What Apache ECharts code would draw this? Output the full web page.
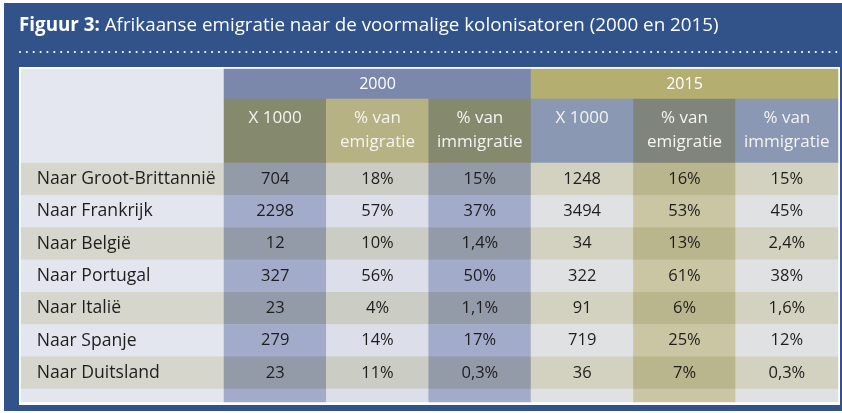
<!DOCTYPE html>
<html><head><meta charset="utf-8">
<script src="https://cdn.jsdelivr.net/npm/echarts@6/dist/echarts.min.js"></script>
<style>html,body{margin:0;padding:0;background:#fff}#c{width:842px;height:413px}</style>
</head><body><div id="c"></div>
<script>
// ---- data ----
const titleBold = 'Figuur 3:';
const titleRest = ' Afrikaanse emigratie naar de voormalige kolonisatoren (2000 en 2015)';
const years = ['2000', '2015'];
const subHeaders = ['X 1000', '% van\nemigratie', '% van\nimmigratie', 'X 1000', '% van\nemigratie', '% van\nimmigratie'];
const countries = ['Naar Groot-Brittannië', 'Naar Frankrijk', 'Naar België', 'Naar Portugal', 'Naar Italië', 'Naar Spanje', 'Naar Duitsland'];
const aantal2000 = [704, 2298, 12, 327, 23, 279, 23];
const emigratie2000 = [18, 57, 10, 56, 4, 14, 11];
const immigratie2000 = [15, 37, 1.4, 50, 1.1, 17, 0.3];
const aantal2015 = [1248, 3494, 34, 322, 91, 719, 36];
const emigratie2015 = [16, 53, 13, 61, 6, 25, 7];
const immigratie2015 = [15, 45, 2.4, 38, 1.6, 12, 0.3];

// ---- styles ----
const FONT = '"Open Sans"';
const yearColors = ['#7b88ab', '#b4ae71'];
const subColors = ['#858a6f', '#b6b283', '#858a6f', '#8b98b4', '#7f857c', '#8b98b4'];
const labelColors = ['#d6d6cc', '#e4e6ef'];
const colColors = [
  ['#939aa8', '#a2abca'],
  ['#cbccc4', '#dcdeea'],
  ['#939aa8', '#a2abca'],
  ['#d3d2c1', '#e0e1e3'],
  ['#b9b58c', '#cac6a3'],
  ['#d3d2c1', '#e0e1e3']
];

const columns = [aantal2000, emigratie2000, immigratie2000, aantal2015, emigratie2015, immigratie2015];
const isPct = [false, true, true, false, true, true];
function fmt(v, pct) {
  const s = String(v).replace('.', ',');
  return pct ? s + '%' : s;
}

const L = 21, LW = 203, R = 838;
const DL = L + LW, DW = R - DL;
const T_YEAR = 69, H_YEAR = 30, T_SUB = 99, H_SUB = 64, T_DATA = 163, H_DATA = 226, T_BLANK = 389, H_BLANK = 13;

const grids = [
  {left: DL, top: T_YEAR, width: DW, height: H_YEAR},
  {left: DL, top: T_SUB, width: DW, height: H_SUB},
  {left: L, top: T_DATA, width: LW, height: H_DATA},
  {left: DL, top: T_DATA, width: DW, height: H_DATA},
  {left: L, top: T_BLANK, width: LW, height: H_BLANK},
  {left: DL, top: T_BLANK, width: DW, height: H_BLANK}
];
const xCats = [years, subHeaders, ['label'], subHeaders.map((s, i) => 'c' + i), ['label'], subHeaders.map((s, i) => 'c' + i)];
const yCats = [['y'], ['s'], countries, countries, ['b'], ['b']];
const xAxis = grids.map((g, i) => ({type: 'category', gridIndex: i, data: xCats[i], show: false}));
const yAxis = grids.map((g, i) => ({type: 'category', gridIndex: i, data: yCats[i], show: false, inverse: true}));

const hide = {show: false};
const base = {type: 'heatmap', emphasis: {disabled: true}, progressive: 0};
const TXT = '#1e1e1e';

const series = [];
series.push(Object.assign({}, base, {
  xAxisIndex: 0, yAxisIndex: 0,
  data: years.map((y, i) => ({value: [i, 0, 1], itemStyle: {color: yearColors[i]}})),
  label: {show: true, formatter: p => years[p.data.value[0]], color: '#ffffff', fontFamily: FONT, fontSize: 16}
}));
series.push(Object.assign({}, base, {
  xAxisIndex: 1, yAxisIndex: 1,
  data: subHeaders.map((s, i) => ({value: [i, 0, 1], itemStyle: {color: subColors[i]}})),
  label: {show: true, position: 'insideTop', distance: 7, formatter: p => subHeaders[p.data.value[0]],
    color: '#f4f4f0', fontFamily: FONT, fontSize: 17, lineHeight: 24, align: 'center'}
}));
series.push(Object.assign({}, base, {
  xAxisIndex: 2, yAxisIndex: 2,
  data: countries.map((c, r) => ({value: [0, r, 1], itemStyle: {color: labelColors[r % 2]}})),
  label: {show: true, position: 'insideLeft', distance: 16, formatter: p => countries[p.data.value[1]],
    color: TXT, fontFamily: FONT, fontSize: 17.6}
}));
const dataCells = [];
columns.forEach((col, c) => col.forEach((v, r) => {
  dataCells.push({value: [c, r, v], itemStyle: {color: colColors[c][r % 2]}});
}));
series.push(Object.assign({}, base, {
  xAxisIndex: 3, yAxisIndex: 3,
  data: dataCells,
  label: {show: true, formatter: p => fmt(p.data.value[2], isPct[p.data.value[0]]),
    color: TXT, fontFamily: FONT, fontSize: 16.5}
}));
series.push(Object.assign({}, base, {
  xAxisIndex: 4, yAxisIndex: 4,
  data: [{value: [0, 0, 1], itemStyle: {color: labelColors[1]}}],
  label: hide
}));
series.push(Object.assign({}, base, {
  xAxisIndex: 5, yAxisIndex: 5,
  data: colColors.map((cc, c) => ({value: [c, 0, 1], itemStyle: {color: cc[1]}})),
  label: hide
}));

const chart = echarts.init(document.getElementById('c'), null, {renderer: 'canvas'});
chart.setOption({
  animation: false,
  backgroundColor: '#ffffff',
  grid: grids,
  xAxis: xAxis,
  yAxis: yAxis,
  graphic: [
    {type: 'rect', z: -10, shape: {x: 4, y: 3, width: 838, height: 408}, style: {fill: '#31538a'}},
    {type: 'text', z: -5, x: 19, y: 26, style: {
      text: '{b|' + titleBold + '}{r|' + titleRest + '}', verticalAlign: 'middle',
      rich: {
        b: {fontFamily: FONT, fontWeight: 'bold', fontSize: 18.8, fill: '#ffffff', color: '#ffffff'},
        r: {fontFamily: FONT, fontSize: 18.8, fill: '#ffffff', color: '#ffffff'}
      }}},
    {type: 'line', z: -5, shape: {x1: 20, y1: 52, x2: 840, y2: 52},
      style: {stroke: '#ffffff', lineWidth: 2.2, lineDash: [0.01, 6.85], lineCap: 'round'}},
    {type: 'rect', z: -6, shape: {x: 19, y: 67, width: 821, height: 338}, style: {fill: '#ffffff'}},
    {type: 'rect', z: -5, shape: {x: L, y: T_YEAR, width: LW, height: T_DATA - T_YEAR}, style: {fill: '#e4e7f0'}}
  ],
  series: series
});
</script></body></html>
